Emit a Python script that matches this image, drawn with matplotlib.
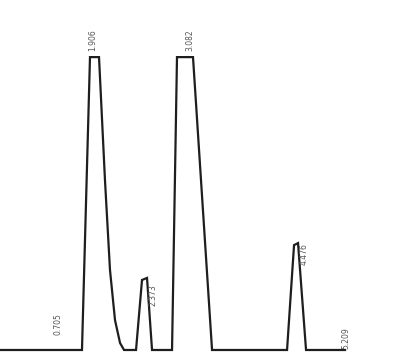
import numpy as np
import matplotlib.pyplot as plt

# trace: retention time (min) and detector signal (clipped at 100)
t_trace = [0.00, 0.92, 1.373, 1.507, 1.658, 1.758, 1.842, 1.926, 2.010, 2.077,
           2.278, 2.378, 2.462, 2.546,
           2.881, 2.964, 3.232, 3.551,
           4.807, 4.924, 4.991, 5.125, 5.778]
signal = [0.0, 0.0, 0.0, 100.0, 100.0, 58.0, 27.3, 10.2, 2.4, 0.0,
          0.0, 23.9, 24.6, 0.0,
          0.0, 100.0, 100.0, 0.0,
          0.0, 35.8, 36.5, 0.0, 0.0]

# peak labels (retention times as printed) and where they sit
peak_labels = ["0.705", "1.906", "2.373", "3.082", "4.476", "5.209"]
label_t = [0.97, 1.56, 2.57, 3.18, 5.10, 5.79]
label_y = [5.0, 102.0, 15.0, 102.0, 29.0, 0.5]

fig = plt.figure(figsize=(4.18, 3.54), dpi=100)
ax = fig.add_axes([0, 0, 1, 1])
ax.plot(t_trace, signal, color='#1e1e1e', lw=1.6, solid_joinstyle='miter')

for lab, tx, ty in zip(peak_labels, label_t, label_y):
    ax.text(tx, ty, lab, rotation=90, ha='center', va='bottom',
            fontsize=5.5, color='#555555')

ax.set_xlim(0, 7.0)
ax.set_ylim(-1.37, 119.5)
ax.set_xticks([])
ax.set_yticks([])
for s in ax.spines.values():
    s.set_visible(False)

plt.savefig('out.png', dpi=100)
